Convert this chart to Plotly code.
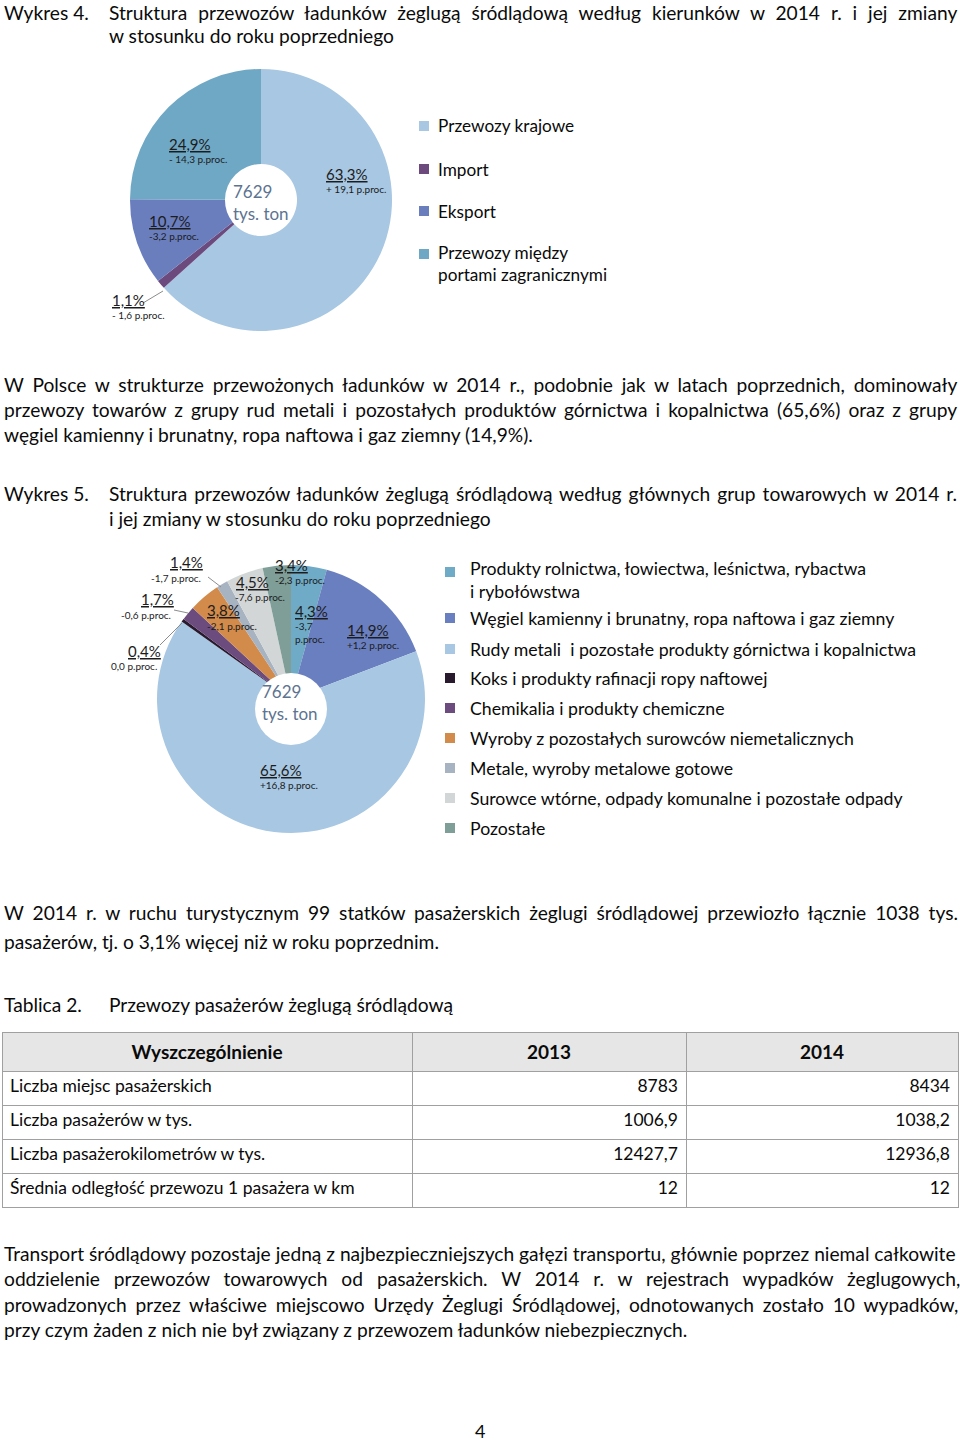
import plotly.graph_objects as go

W, H = 960, 1444
FONT = "Lato"
BODY = 19.2

# ---------------- data ----------------
dir_labels = ["Przewozy krajowe", "Import", "Eksport", "Przewozy między portami zagranicznymi"]
dir_values = [63.3, 1.1, 10.7, 24.9]
dir_changes = ["+ 19,1 p.proc.", "- 1,6 p.proc.", "-3,2 p.proc.", "- 14,3 p.proc."]
dir_colors = ["#A7C7E2", "#6C4A7E", "#6A7EBE", "#6FA8C5"]

grp_labels = [
    "Produkty rolnictwa, łowiectwa, leśnictwa, rybactwa i rybołówstwa",
    "Węgiel kamienny i brunatny, ropa naftowa i gaz ziemny",
    "Rudy metali  i pozostałe produkty górnictwa i kopalnictwa",
    "Koks i produkty rafinacji ropy naftowej",
    "Chemikalia i produkty chemiczne",
    "Wyroby z pozostałych surowców niemetalicznych",
    "Metale, wyroby metalowe gotowe",
    "Surowce wtórne, odpady komunalne i pozostałe odpady",
    "Pozostałe",
]
grp_values = [4.3, 14.9, 65.6, 0.4, 1.7, 3.8, 1.4, 4.5, 3.4]
grp_changes = ["-3,7<br>p.proc.", "+1,2 p.proc.", "+16,8 p.proc.", "0,0 p.proc.", "-0,6 p.proc.",
               "-2,1 p.proc.", "-1,7 p.proc.", "-7,6 p.proc.", "-2,3 p.proc."]
grp_colors = ["#6FAAC6", "#6A7FBF", "#A7C7E2", "#2A1A2E", "#6C4C7E", "#D28B4B", "#A8B3C1", "#D3D6D6", "#7E9E97"]

total_label = "7629<br>tys. ton"

tab_header = ["Wyszczególnienie", "2013", "2014"]
tab_rows = ["Liczba miejsc pasażerskich", "Liczba pasażerów w tys.",
            "Liczba pasażerokilometrów w tys.", "Średnia odległość przewozu 1 pasażera w km"]
tab_2013 = [8783, 1006.9, 12427.7, 12]
tab_2014 = [8434, 1038.2, 12936.8, 12]


def fmt(v):
    s = f"{v:g}" if isinstance(v, float) else str(v)
    return s.replace(".", ",")


def pct(v):
    return f"{v:.1f}%".replace(".", ",")


# ---------------- helpers ----------------
def px(x):
    return x / W


def py(y):
    return 1 - y / H


annotations = []
shapes = []


def text(t, x, y, size=BODY, color="#0a0a0a", xanchor="left", ws=None):
    if ws:
        t = f'<span style="word-spacing:{ws}px">{t}</span>'
    annotations.append(dict(
        text=t, x=px(x), y=py(y), xref="paper", yref="paper",
        xanchor=xanchor, yanchor="middle", showarrow=False,
        font=dict(family=FONT, size=size, color=color), align="left",
    ))


def pie_domain(cx, cy, r):
    return dict(x=[px(cx - r), px(cx + r)], y=[py(cy + r), py(cy - r)])


fig = go.Figure()

# ---------------- pie 1 ----------------
fig.add_trace(go.Pie(
    labels=dir_labels, values=dir_values, sort=False, direction="clockwise", rotation=0,
    hole=0.275, marker=dict(colors=dir_colors, line=dict(width=0)),
    textinfo="none", hoverinfo="skip", domain=pie_domain(261, 200, 131), showlegend=False,
))

# ---------------- pie 2 ----------------
fig.add_trace(go.Pie(
    labels=grp_labels, values=grp_values, sort=False, direction="clockwise", rotation=0,
    hole=0.12, marker=dict(colors=grp_colors, line=dict(width=0)),
    textinfo="none", hoverinfo="skip", domain=pie_domain(291, 699, 134), showlegend=False,
))
# white centre disc of pie 2 (sits slightly below the pie centre, as in the original)
shapes.append(dict(type="circle", xref="paper", yref="paper", layer="above",
                   x0=px(291 - 36), x1=px(291 + 36), y0=py(709 + 36), y1=py(709 - 36),
                   fillcolor="white", line=dict(width=0)))

# ---------------- table ----------------
fig.add_trace(go.Table(
    domain=dict(x=[px(2), px(958)], y=[py(1210), py(1032)]),
    columnwidth=[410, 274, 272],
    header=dict(values=[f"<b>{h}</b>" for h in tab_header], align="center", height=36,
                fill_color="#E6E6E6", line=dict(color="#A0A0A0", width=1),
                font=dict(family=FONT, size=19, color="#0a0a0a")),
    cells=dict(values=[tab_rows, [fmt(v) for v in tab_2013], [fmt(v) for v in tab_2014]],
               align=["left", "right", "right"], height=34,
               fill_color="white", line=dict(color="#A0A0A0", width=1),
               font=dict(family=FONT, size=17.5, color="#0a0a0a")),
))

# ---------------- texts ----------------
text("Wykres 4.", 2, 12)
text("Struktura przewozów ładunków żeglugą śródlądową według kierunków w 2014 r. i jej zmiany", 107, 12, ws=6.0)
text("w stosunku do roku poprzedniego", 107, 36)

text("W Polsce w strukturze przewożonych ładunków w 2014 r., podobnie jak w latach poprzednich, dominowały", 2, 384, ws=3.9)
text("przewozy towarów z grupy rud metali i pozostałych produktów górnictwa i kopalnictwa (65,6%) oraz z grupy", 2, 409, ws=3.15)
text("węgiel kamienny i brunatny, ropa naftowa i gaz ziemny (14,9%).", 2, 434)

text("Wykres 5.", 2, 493)
text("Struktura przewozów ładunków żeglugą śródlądową według głównych grup towarowych w 2014 r.", 107, 493, ws=2.1)
text("i jej zmiany w stosunku do roku poprzedniego", 107, 519)

text("W 2014 r. w ruchu turystycznym 99 statków pasażerskich żeglugi śródlądowej przewiozło łącznie 1038 tys.", 2, 912, ws=4.0)
text("pasażerów, tj. o 3,1% więcej niż w roku poprzednim.", 2, 941)

text("Tablica 2.", 2, 1004)
text("Przewozy pasażerów żeglugą śródlądową", 107, 1004)

text("Transport śródlądowy pozostaje jedną z najbezpieczniejszych gałęzi transportu, głównie poprzez niemal całkowite", 2, 1253)
text("oddzielenie przewozów towarowych od pasażerskich. W 2014 r. w rejestrach wypadków żeglugowych,", 2, 1278, ws=9.0)
text("prowadzonych przez właściwe miejscowo Urzędy Żeglugi Śródlądowej, odnotowanych zostało 10 wypadków,", 2, 1304, ws=4.0)
text("przy czym żaden z nich nie był związany z przewozem ładunków niebezpiecznych.", 2, 1329)

text("4", 480, 1431, size=18, xanchor="center")

# ---------------- pie labels ----------------
LBL = "#1c1c1c"
CEN = "#5C7391"

# pie 1
pie1_pos = [(324, 174), (110, 300), (147, 221), (167, 144)]
for v, ch, (x, y) in zip(dir_values, dir_changes, pie1_pos):
    text(f"<u>{pct(v)}</u>", x, y, size=15, color=LBL)
    text(ch, x, y + 15, size=10, color=LBL)
text(total_label, 261, 202, size=17, color=CEN, xanchor="center")
shapes.append(dict(type="line", xref="paper", yref="paper", x0=px(143), y0=py(303), x1=px(163), y1=py(291),
                   line=dict(color="#8c8c8c", width=1)))

# pie 2
pie2_pos = [(293, 611), (345, 630), (258, 770), (126, 651), (139, 599), (205, 610), (168, 562), (234, 582), (273, 565)]
pie2_sub = [(293, 632), (345, 645), (258, 785), (109, 666), (119, 615), (205, 626), (149, 578), (233, 597), (273, 580)]
for v, ch, (x, y), (sx, sy) in zip(grp_values, grp_changes, pie2_pos, pie2_sub):
    text(f"<u>{pct(v)}</u>", x, y, size=15, color=LBL)
    text(ch, sx, sy, size=10, color=LBL)
text(total_label, 290, 702, size=17, color=CEN, xanchor="center")
for (x0, y0, x1, y1) in [(208, 577, 221, 587), (174, 610, 188, 613), (160, 645, 182, 623)]:
    shapes.append(dict(type="line", xref="paper", yref="paper", x0=px(x0), y0=py(y0), x1=px(x1), y1=py(y1),
                       line=dict(color="#8c8c8c", width=1)))


# ---------------- legends ----------------
def legend_item(color, label, sx, tx, y, ty, size):
    shapes.append(dict(type="rect", xref="paper", yref="paper", x0=px(sx), x1=px(sx + 10),
                       y0=py(y + 5), y1=py(y - 5), fillcolor=color, line=dict(width=0)))
    text(label, tx, ty, size=size, color="#0a0a0a")


leg1_y = [126, 169, 211, 254]
leg1_ty = [126, 169, 211, 263]
leg1_text = ["Przewozy krajowe", "Import", "Eksport", "Przewozy między<br>portami zagranicznymi"]
for c, t, y, ty in zip(dir_colors, leg1_text, leg1_y, leg1_ty):
    legend_item(c, t, 419, 436, y, ty, 17.2)

leg2_y = [572, 618, 649, 678, 708, 738, 768, 798, 828]
leg2_ty = [580] + leg2_y[1:]
leg2_text = ["Produkty rolnictwa, łowiectwa, leśnictwa, rybactwa<br>i rybołówstwa"] + grp_labels[1:]
for c, t, y, ty in zip(grp_colors, leg2_text, leg2_y, leg2_ty):
    legend_item(c, t, 445, 468, y, ty, 17.7)

fig.update_layout(
    width=W, height=H, margin=dict(l=0, r=0, t=0, b=0),
    paper_bgcolor="white", plot_bgcolor="white", showlegend=False,
    annotations=annotations, shapes=shapes,
    font=dict(family=FONT),
)

fig.write_html("out.html")
